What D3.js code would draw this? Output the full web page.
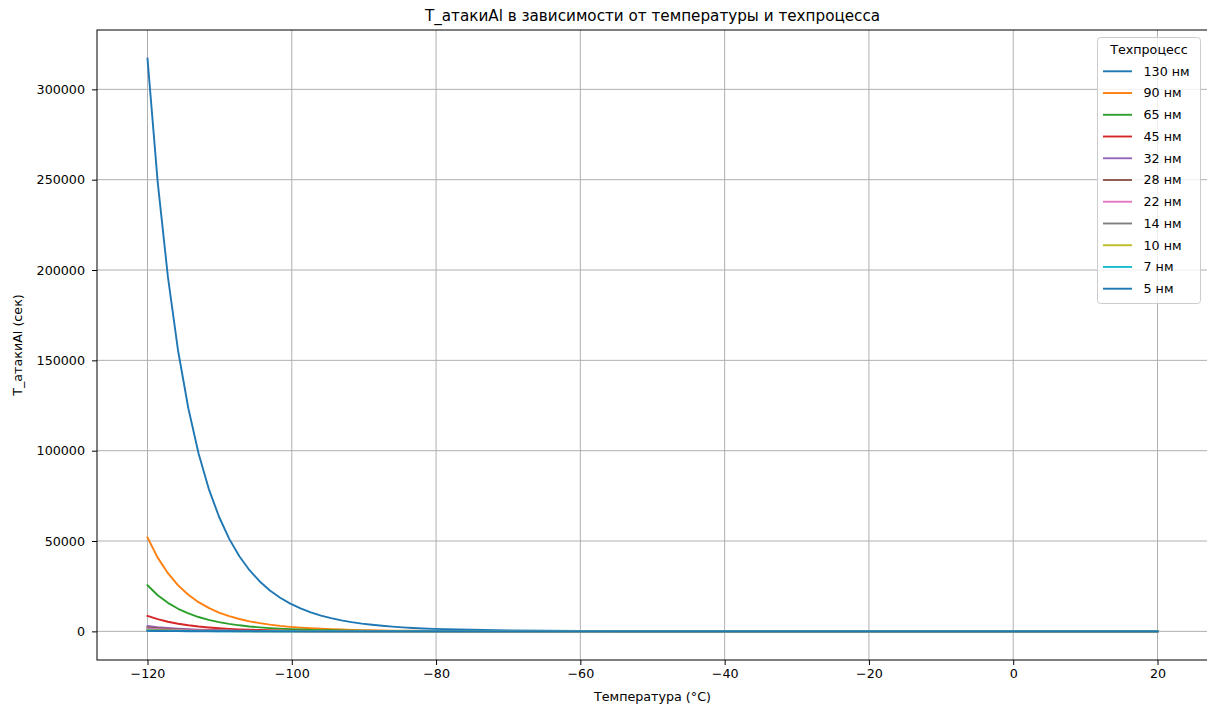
<!DOCTYPE html>
<html>
<head>
<meta charset="utf-8">
<script src="https://cdn.jsdelivr.net/npm/d3@7"></script>
<style>
	body{ margin:0; background:#fff; }
	#chart-1{ width:1207px; height:709px; }
	text{ font-family:'DejaVu Sans', sans-serif; fill:#000; }
</style>
</head>
<body>
<div id="chart-1"></div>
<script>
//Temperature points (°C): fine steps where the curves bend, coarse on the flat tail
const temps = [
	-120, -118.59, -117.17, -115.76, -114.34, -112.93, -111.52, -110.10, -108.69, -107.27,
	-105.86, -104.44, -103.03, -101.62, -100.20, -98.79, -97.37, -95.96, -94.55, -93.13,
	-91.72, -90.30, -88.89, -87.47, -86.06, -84.65, -83.23, -81.82, -80.40,
	-70, -60, -50, -40, -30, -20, -10, 0, 10, 20
];

//Legend labels, one per process node
const nodes = ['130 нм', '90 нм', '65 нм', '45 нм', '32 нм', '28 нм', '22 нм', '14 нм', '10 нм', '7 нм', '5 нм'];

//T_атакиAl values (sec)
const t130 = [
	317000, 248800, 196200, 155300, 123500, 98590, 79020, 63570, 51340, 41610,
	33850, 27630, 22620, 18590, 15320, 12670, 10510, 8743, 7294, 6105,
	5123, 4308, 3636, 3075, 2606, 2216, 1889, 1614, 1379,
	470, 184, 79, 36, 17.7, 9.1, 5.0, 2.8, 1.7, 1.0
];
const t90 = [
	52000, 40820, 32180, 25480, 20260, 16170, 12960, 10430, 8422, 6826,
	5552, 4532, 3711, 3050, 2514, 2078, 1724, 1434, 1197, 1002,
	840, 707, 596, 504, 427, 363, 310, 265, 226,
	77, 30, 12.9, 5.9, 2.9, 1.5, 0.82, 0.46, 0.28, 0.17
];
const t65 = [
	25500, 20017, 15782, 12495, 9935, 7931, 6357, 5114, 4130, 3347,
	2723, 2222, 1820, 1496, 1233, 1019, 846, 703, 587, 491,
	412, 347, 292, 247, 210, 178, 152, 130, 111,
	37.8, 14.8, 6.3, 2.9, 1.4, 0.73, 0.4, 0.23, 0.14, 0.084
];
const t45 = [
	8600, 6751, 5322, 4214, 3351, 2675, 2144, 1725, 1393, 1129,
	918, 749, 614, 504, 416, 344, 285, 237, 198, 166,
	139, 117, 99, 83, 71, 60, 51, 44, 37,
	12.8, 5.0, 2.1, 0.98, 0.48, 0.25, 0.14, 0.077, 0.046, 0.028
];
const t32 = [
	3000, 2355, 1857, 1470, 1169, 933, 748, 602, 486, 394,
	320, 261, 214, 176, 145, 120, 99, 83, 69, 58,
	48, 41, 34, 29, 25, 21, 18, 15, 13,
	4.4, 1.7, 0.74, 0.34, 0.17, 0.086, 0.047, 0.027, 0.016, 0.01
];
const t28 = [
	2200, 1727, 1362, 1078, 857, 684, 548, 441, 356, 289,
	235, 192, 157, 129, 106, 88, 73, 61, 51, 42,
	36, 30, 25, 21, 18, 15, 13, 11, 9.6,
	3.3, 1.3, 0.55, 0.25, 0.12, 0.063, 0.035, 0.02, 0.012, 0.007
];
const t22 = [
	1600, 1256, 990, 784, 623, 498, 399, 321, 259, 210,
	171, 139, 114, 94, 77, 64, 53, 44, 37, 31,
	26, 22, 18, 16, 13, 11, 9.5, 8.1, 7.0,
	2.4, 0.93, 0.4, 0.18, 0.089, 0.046, 0.025, 0.014, 0.008, 0.005
];
const t14 = [
	1000, 785, 619, 490, 390, 311, 249, 201, 162, 131,
	107, 87, 71, 59, 48, 40, 33, 28, 23, 19,
	16, 14, 11, 9.7, 8.2, 7.0, 6.0, 5.1, 4.4,
	1.5, 0.58, 0.25, 0.11, 0.056, 0.029, 0.016, 0.009, 0.005, 0.003
];
const t10 = [
	700, 549, 433, 343, 273, 218, 174, 140, 113, 92,
	75, 61, 50, 41, 34, 28, 23, 19, 16, 13,
	11, 9.5, 8.0, 6.8, 5.8, 4.9, 4.2, 3.6, 3.0,
	1.0, 0.41, 0.17, 0.08, 0.039, 0.02, 0.011, 0.006, 0.004, 0.002
];
const t7 = [
	450, 353, 279, 221, 175, 140, 112, 90, 73, 59,
	48, 39, 32, 26, 22, 18, 15, 12, 10, 8.7,
	7.3, 6.1, 5.2, 4.4, 3.7, 3.1, 2.7, 2.3, 2.0,
	0.67, 0.26, 0.11, 0.05, 0.025, 0.013, 0.007, 0.004, 0.002, 0.0015
];
const t5 = [
	250, 196, 155, 123, 97, 78, 62, 50, 40, 33,
	27, 22, 18, 15, 12, 10, 8.3, 6.9, 5.8, 4.8,
	4.0, 3.4, 2.9, 2.4, 2.1, 1.7, 1.5, 1.3, 1.1,
	0.37, 0.15, 0.062, 0.028, 0.014, 0.007, 0.004, 0.002, 0.001, 0.001
];

const seriesValues = [t130, t90, t65, t45, t32, t28, t22, t14, t10, t7, t5];

//matplotlib tab10, 11th series wraps back to the first colour
const colors = ['#1f77b4', '#ff7f0e', '#2ca02c', '#d62728', '#9467bd', '#8c564b', '#e377c2', '#7f7f7f', '#bcbd22', '#17becf'];

renderChart(document.getElementById('chart-1'));

function renderChart(dom){

	//Append DOM
	const w = dom.clientWidth;
	const h = dom.clientHeight;
	const m = {l:97, r:-1, t:30, b:49};
	const plot = d3.select(dom).append('svg')
		.attr('width', w)
		.attr('height', h);

	const series = nodes.map(function(name, i){
		return {name: name, color: colors[i % colors.length], values: seriesValues[i].map(function(v, j){ return [temps[j], v]; })};
	});

	//Scales with matplotlib-like 5% margins
	const xExt = d3.extent(temps);
	const xPad = (xExt[1] - xExt[0]) * 0.05;
	const allY = d3.merge(seriesValues);
	const yExt = [Math.min(0, d3.min(allY)), d3.max(allY)];
	const yPad = (yExt[1] - yExt[0]) * 0.05;

	const x = d3.scaleLinear()
		.domain([xExt[0] - xPad, xExt[1] + xPad])
		.range([m.l, w - m.r]);
	const y = d3.scaleLinear()
		.domain([yExt[0] - yPad, yExt[1] + yPad])
		.range([h - m.b, m.t]);

	const xTicks = x.ticks(8);
	const yTicks = y.ticks(7).filter(function(d){ return d >= 0; });

	//Grid
	plot.append('g')
		.selectAll('line.gx')
		.data(xTicks)
		.enter()
		.append('line')
		.attr('x1', function(d){ return x(d); })
		.attr('x2', function(d){ return x(d); })
		.attr('y1', m.t)
		.attr('y2', h - m.b)
		.style('stroke', '#b0b0b0')
		.style('stroke-width', '1px');
	plot.append('g')
		.selectAll('line.gy')
		.data(yTicks)
		.enter()
		.append('line')
		.attr('y1', function(d){ return y(d); })
		.attr('y2', function(d){ return y(d); })
		.attr('x1', m.l)
		.attr('x2', w - m.r)
		.style('stroke', '#b0b0b0')
		.style('stroke-width', '1px');

	//Clip path for the lines
	plot.append('clipPath')
		.attr('id', 'plot-clip')
		.append('rect')
		.attr('x', m.l)
		.attr('y', m.t)
		.attr('width', w - m.r - m.l)
		.attr('height', h - m.b - m.t);

	const lineGenerator = d3.line()
		.x(function(d){ return x(d[0]); })
		.y(function(d){ return y(d[1]); });

	//Render the lines
	plot.append('g')
		.attr('clip-path', 'url(#plot-clip)')
		.selectAll('.series')
		.data(series)
		.enter()
		.append('path')
		.attr('class', 'series')
		.attr('d', function(d){ return lineGenerator(d.values); })
		.style('fill', 'none')
		.style('stroke', function(d){ return d.color; })
		.style('stroke-width', '1.9px')
		.style('stroke-linejoin', 'round')
		.style('stroke-linecap', 'square');

	//Axes
	const xAxis = d3.axisBottom(x)
		.tickValues(xTicks)
		.tickSize(5)
		.tickPadding(4)
		.tickFormat(d3.format('d'));
	const yAxis = d3.axisLeft(y)
		.tickValues(yTicks)
		.tickSize(5)
		.tickPadding(7)
		.tickFormat(d3.format('d'));

	const gx = plot.append('g')
		.attr('transform', 'translate(0,' + (h - m.b) + ')')
		.call(xAxis);
	const gy = plot.append('g')
		.attr('transform', 'translate(' + m.l + ',0)')
		.call(yAxis);

	[gx, gy].forEach(function(g){
		g.select('.domain').remove();
		g.selectAll('.tick line').style('stroke', '#000').style('stroke-width', '1px');
		g.selectAll('.tick text')
			.style('font-family', "'DejaVu Sans', sans-serif")
			.style('font-size', '12.7px')
			.style('fill', '#000');
	});

	//Spines
	plot.append('rect')
		.attr('x', m.l)
		.attr('y', m.t)
		.attr('width', w - m.r - m.l)
		.attr('height', h - m.b - m.t)
		.style('fill', 'none')
		.style('stroke', '#000')
		.style('stroke-width', '1px');

	//Title and axis labels
	const cx = (m.l + w - m.r) / 2;
	plot.append('text')
		.attr('x', cx)
		.attr('y', 21)
		.attr('text-anchor', 'middle')
		.style('font-size', '15.2px')
		.text('T_атакиAl в зависимости от температуры и техпроцесса');

	plot.append('text')
		.attr('x', cx)
		.attr('y', 701)
		.attr('text-anchor', 'middle')
		.style('font-size', '12.7px')
		.text('Температура (°C)');

	plot.append('text')
		.attr('transform', 'translate(22,' + ((m.t + h - m.b) / 2) + ') rotate(-90)')
		.attr('text-anchor', 'middle')
		.style('font-size', '12.7px')
		.text('T_атакиAl (сек)');

	//Legend
	const lg = plot.append('g').attr('class', 'legend');
	lg.append('rect')
		.attr('x', 1097.5)
		.attr('y', 37.5)
		.attr('width', 103)
		.attr('height', 266)
		.attr('rx', 3)
		.style('fill', 'rgba(255,255,255,0.8)')
		.style('stroke', '#cccccc')
		.style('stroke-width', '1px');

	lg.append('text')
		.attr('x', 1149)
		.attr('y', 50)
		.attr('dy', '0.35em')
		.attr('text-anchor', 'middle')
		.style('font-size', '12.7px')
		.text('Техпроцесс');

	const item = lg.selectAll('.legend-item')
		.data(series)
		.enter()
		.append('g')
		.attr('class', 'legend-item')
		.attr('transform', function(d, i){ return 'translate(0,' + (71.3 + i * 21.74) + ')'; });

	item.append('line')
		.attr('x1', 1103)
		.attr('x2', 1132)
		.style('stroke', function(d){ return d.color; })
		.style('stroke-width', '1.9px');

	item.append('text')
		.attr('x', 1143.5)
		.attr('dy', '0.35em')
		.style('font-size', '12.7px')
		.text(function(d){ return d.name; });
}
</script>
</body>
</html>
